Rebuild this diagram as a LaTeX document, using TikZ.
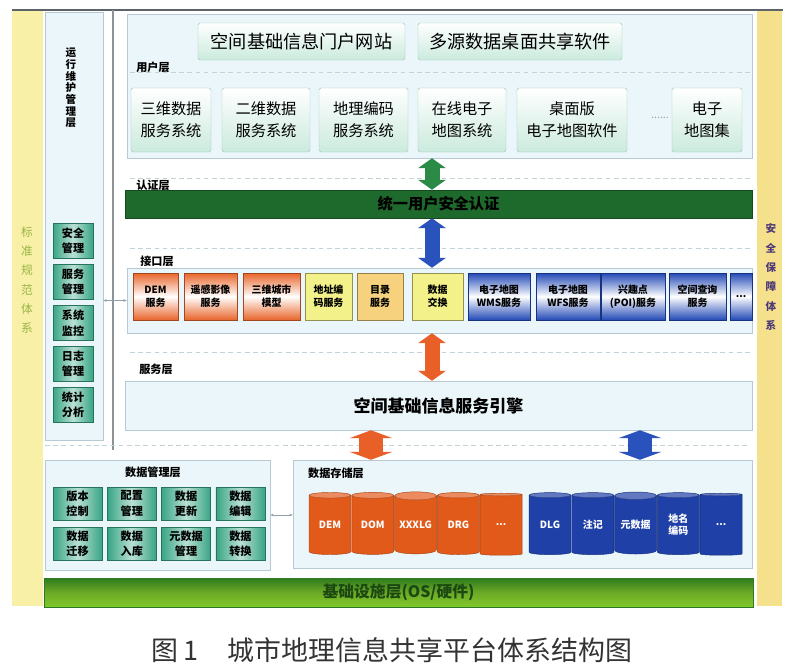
\documentclass[tikz,border=0pt]{standalone}
\usepackage{fontspec}
\setmainfont{Noto Sans CJK SC}
\usetikzlibrary{shapes.geometric,arrows.meta}

\definecolor{frameDark}{HTML}{5C636B}
\definecolor{paleBg}{HTML}{EAF6F9}
\definecolor{stripLeft}{HTML}{F7F0A6}
\definecolor{stripRight}{HTML}{F5E08C}
\definecolor{frameGrey}{HTML}{B7C9D3}
\definecolor{sepGrey}{HTML}{C3D1D9}
\definecolor{userBorder}{HTML}{9CC8B6}
\definecolor{userGreen}{HTML}{CBEADD}
\definecolor{authGreen}{HTML}{1E6A2C}
\definecolor{arrowGreen}{HTML}{2B8A45}
\definecolor{arrowBlue}{HTML}{2A52BC}
\definecolor{arrowOrange}{HTML}{E95F28}
\definecolor{svcOrange}{HTML}{E8652B}
\definecolor{svcYellow}{HTML}{F3F28A}
\definecolor{svcTan}{HTML}{F6D27E}
\definecolor{svcBlue}{HTML}{2249B6}
\definecolor{tealBox}{HTML}{38A584}
\definecolor{dbOrange}{HTML}{E25A1A}
\definecolor{dbBlue}{HTML}{1F40A6}
\definecolor{limeGreen}{HTML}{80C82C}
\definecolor{baseDark}{HTML}{2E7A1E}
\definecolor{stdText}{HTML}{9AB548}
\definecolor{secText}{HTML}{4E3A78}

\newcommand{\dbdots}{...}

\begin{document}
\begin{tikzpicture}[x=0.03cm, y=-0.03cm,
    sz/.style 2 args={minimum width=#1*0.03cm, minimum height=#2*0.03cm},
    layer/.style={draw=frameGrey, fill=paleBg, inner sep=0pt},
    userbox/.style={draw=userBorder, top color=white, bottom color=userGreen, rounded corners=1.5pt, align=center, inner sep=0pt, font=\fontsize{13}{19}\selectfont},
    tag/.style={inner sep=0pt, font=\bfseries\fontsize{9.5}{10}\selectfont},
    svcgrad/.style={draw=#1!70!black, top color=#1, bottom color=#1, middle color=white, align=center, inner sep=0pt, font=\bfseries\fontsize{8.5}{11}\selectfont},
    svcflat/.style={draw=#1!60!black, fill=#1, align=center, inner sep=0pt, font=\bfseries\fontsize{8.5}{11}\selectfont},
    tealitem/.style={draw=tealBox!70!black, left color=tealBox, right color=tealBox, middle color=tealBox!35!white, align=center, inner sep=0pt, font=\bfseries\fontsize{9.5}{13}\selectfont},
    db/.style={cylinder, shape border rotate=90, aspect=0.25, draw=#1!75!black, cylinder uses custom fill, cylinder body fill=#1, cylinder end fill=#1!70!white, text=white, align=center, inner sep=0pt, font=\bfseries\fontsize{8.5}{10}\selectfont, minimum width=1.26cm, minimum height=1.86cm},
    sep/.style={draw=sepGrey, line width=0.8pt, dash pattern=on 4pt off 3pt},
    dblarrow/.style={draw=#1, line width=0.45cm, {Triangle[width=0.84cm, length=0.3cm, line width=0pt]}-{Triangle[width=0.84cm, length=0.3cm, line width=0pt]}},
    widearrow/.style={draw=#1, line width=0.7cm, {Triangle[width=1.3cm, length=0.24cm, line width=0pt]}-{Triangle[width=1.3cm, length=0.24cm, line width=0pt]}},
    thinlink/.style={draw=frameGrey!80!black, thin, {Stealth[length=3pt]}-{Stealth[length=3pt]}}
  ]
  \useasboundingbox (0,0) rectangle (800,671);

  % side strips and frame
  \node[fill=stripLeft, inner sep=0pt, sz={31}{596}] (stdStrip) at (27.5,308) {};
  \node[fill=stripRight, inner sep=0pt, sz={25}{596}] (secStrip) at (769.5,308) {};
  \draw[frameDark, line width=1.5pt] (12,10) -- (783,10);
  \node[align=center, text=stdText, font=\fontsize{10}{16.5}\selectfont] (stdLabel) at (27,280) {标\\准\\规\\范\\体\\系};
  \node[align=center, text=secText, font=\bfseries\fontsize{9}{16.5}\selectfont] (secLabel) at (771,277) {安\\全\\保\\障\\体\\系};

  \node[layer, sz={58}{428}] (leftCol) at (74,226) {};
  \draw[frameDark!70, line width=1.6pt] (113,10) -- (113,450);
  \node[align=center, font=\bfseries\fontsize{9}{10}\selectfont] (opsLabel) at (71,88) {运\\行\\维\\护\\管\\理\\层};
  \foreach \name/\txt [count=\i from 0] in {safeMgr/安全\\管理, svcMgr/服务\\管理, sysMon/系统\\监控, logMgr/日志\\管理, statAna/统计\\分析}
    \node[tealitem, sz={40}{35}] (\name) at (73,{241+41*\i}) {\txt};

  % user layer
  \node[layer, sz={625}{144}] (userLayer) at (439.5,86) {};
  \draw[sep] (130,72) -- (750,72);
  \node[tag] (userTag) at (153,67) {用户层};
  \node[userbox, sz={207}{37}, font=\fontsize{15.5}{18}\selectfont] (portal) at (301.5,41.5) {空间基础信息门户网站};
  \node[userbox, sz={204}{37}, font=\fontsize{15.5}{18}\selectfont] (deskShare) at (520,41.5) {多源数据桌面共享软件};
  \node[userbox, sz={80}{64}] (sys3d) at (171,120) {三维数据\\服务系统};
  \node[userbox, sz={88}{64}] (sys2d) at (266,120) {二维数据\\服务系统};
  \node[userbox, sz={89}{64}] (sysGeo) at (363.5,120) {地理编码\\服务系统};
  \node[userbox, sz={88}{64}] (sysOnline) at (462,120) {在线电子\\地图系统};
  \node[userbox, sz={110}{64}] (sysDesk) at (572,120) {桌面版\\电子地图软件};
  \node[text=frameDark!60, font=\fontsize{9}{10}\selectfont] (userMore) at (660,118) {......};
  \node[userbox, sz={70}{64}] (atlas) at (707,120) {电子\\地图集};

  % authentication layer
  \draw[sep] (130,178) -- (750,178);
  \node[tag] (authTag) at (153,185) {认证层};
  \node[fill=authGreen, draw=authGreen!70!black, inner sep=0pt, sz={627}{28}, font=\bfseries\fontsize{13}{15}\selectfont] (authBar) at (438.5,204) {统一用户安全认证};

  % interface layer
  \draw[sep] (130,248) -- (750,248);
  \node[tag] (ifaceTag) at (157,261) {接口层};
  \node[layer, sz={625}{65}] (ifaceLayer) at (439.5,300.5) {};
  \node[svcgrad=svcOrange, sz={45}{47}] (demSvc) at (155.5,296.5) {DEM\\服务};
  \node[svcgrad=svcOrange, sz={53}{47}] (rsSvc) at (210.5,296.5) {遥感影像\\服务};
  \node[svcgrad=svcOrange, sz={57}{47}] (citySvc) at (271.5,296.5) {三维城市\\模型};
  \node[svcflat=svcYellow, sz={47}{47}] (addrSvc) at (328.5,296.5) {地址编\\码服务};
  \node[svcflat=svcTan, sz={46}{47}] (catSvc) at (380,296.5) {目录\\服务};
  \node[svcflat=svcYellow, sz={51}{47}] (exchSvc) at (437.5,296.5) {数据\\交换};
  \node[svcgrad=svcBlue, sz={62}{47}] (wmsSvc) at (499,296.5) {电子地图\\WMS服务};
  \node[svcgrad=svcBlue, sz={64}{47}] (wfsSvc) at (568,296.5) {电子地图\\WFS服务};
  \node[svcgrad=svcBlue, sz={64}{47}] (poiSvc) at (633,296.5) {兴趣点\\(POI)服务};
  \node[svcgrad=svcBlue, sz={57}{47}] (querySvc) at (697.5,296.5) {空间查询\\服务};
  \node[svcgrad=svcBlue, sz={22}{47}] (moreSvc) at (741,296.5) {\dbdots};

  % service layer
  \draw[sep] (130,352) -- (750,352);
  \node[tag] (svcTag) at (156,369) {服务层};
  \node[layer, sz={627}{49}, font=\bfseries\fontsize{14.5}{16}\selectfont] (engine) at (438.5,405.5) {空间基础信息服务引擎};
  \draw[sep] (45,445) -- (750,445);

  % data management layer
  \node[layer, sz={225}{110}] (mgmt) at (157.5,515) {};
  \node[tag] (mgmtTag) at (153,472) {数据管理层};
  \foreach \name/\txt [count=\i from 0] in {verCtl/版本\\控制, cfgMgr/配置\\管理, dataUpd/数据\\更新, dataEdit/数据\\编辑}
    \node[tealitem, sz={49}{33}] (\name) at ({77.5+54.3*\i},503.5) {\txt};
  \foreach \name/\txt [count=\i from 0] in {dataMig/数据\\迁移, dataIn/数据\\入库, metaMgr/元数据\\管理, dataConv/数据\\转换}
    \node[tealitem, sz={49}{33}] (\name) at ({77.5+54.3*\i},543.5) {\txt};

  % data storage layer
  \node[layer, sz={459}{108}] (storage) at (522.5,514) {};
  \node[tag] (storeTag) at (336,473) {数据存储层};
  \foreach \name/\txt [count=\i from 0] in {demDb/DEM, domDb/DOM, xlgDb/XXXLG, drgDb/DRG, moreOrangeDb/\dbdots}
    \node[db=dbOrange] (\name) at ({330+42.8*\i},525) {\txt};
  \foreach \name/\txt [count=\i from 0] in {dlgDb/DLG, noteDb/注记, metaDb/元数据, placeDb/地名\\编码, moreBlueDb/\dbdots}
    \node[db=dbBlue] (\name) at ({550+42.8*\i},525) {\txt};

  % infrastructure layer
  \node[top color=baseDark, bottom color=limeGreen, middle color=limeGreen!85!black, draw=baseDark, inner sep=0pt, sz={709}{29}, font=\bfseries\fontsize{13.5}{15}\selectfont, text=baseDark!60!black] (base) at (398.5,592.5) {基础设施层(OS/硬件)};

  % connectors
  \coordinate (midX) at (432,0);
  \draw[dblarrow=arrowGreen] (userLayer.south -| midX) -- (authBar.north -| midX);
  \draw[dblarrow=arrowBlue] (authBar.south -| midX) -- (ifaceLayer.north -| midX);
  \draw[dblarrow=arrowOrange] (ifaceLayer.south -| midX) -- (engine.north -| midX);
  \coordinate (orangeX) at (371,0);
  \coordinate (blueX) at (640,0);
  \draw[widearrow=arrowOrange] (engine.south -| orangeX) -- (storage.north -| orangeX);
  \draw[widearrow=arrowBlue] (engine.south -| blueX) -- (storage.north -| blueX);
  \draw[thinlink] (leftCol.east |- ifaceLayer.west) -- (ifaceLayer.west);
  \draw[thinlink] (mgmt.east) -- (storage.west |- mgmt.east);

  % caption
  \node[font=\fontsize{23}{26}\selectfont, text=black!80] (caption) at (392,650) {图\,1\hspace{1.1em}城市地理信息共享平台体系结构图};
\end{tikzpicture}
\end{document}
